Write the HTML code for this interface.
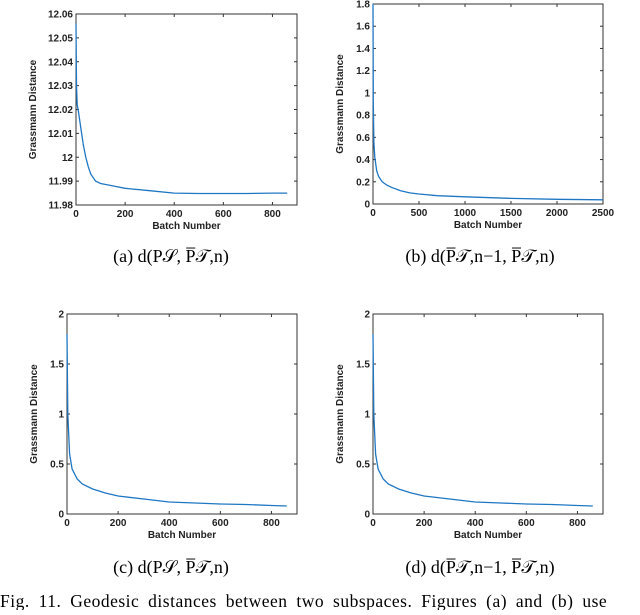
<!DOCTYPE html>
<html><head><meta charset="utf-8"><style>
body{margin:0;background:#fff;width:640px;height:610px;overflow:hidden}
svg text{font-family:"Liberation Sans",sans-serif}
.t{font-size:10px;font-weight:bold;fill:#222}
.cap{font-family:"Liberation Serif",serif;font-size:18px;fill:#000}
</style></head><body>
<svg id="s" width="640" height="610">
<text class="cap" x="0" y="607" style="font-size:17.5px;letter-spacing:0.5px;word-spacing:4px">Fig. 11.  Geodesic distances between two subspaces. Figures (a) and (b) use</text>
</svg>
<script>
const aX=[0,2,5,10,20,30,40,50,60,80,100,150,200,300,400,500,600,700,800,860];
const aY=[12.056,12.03,12.022,12.019,12.012,12.005,12.0,11.996,11.993,11.990,11.989,11.988,11.987,11.986,11.985,11.9848,11.9848,11.9848,11.985,11.985];
const bX=[0,3,10,20,40,60,100,150,200,300,400,500,700,1000,1500,2000,2500];
const bY=[1.8,0.9,0.55,0.42,0.3,0.25,0.2,0.17,0.15,0.12,0.1,0.09,0.075,0.065,0.05,0.042,0.038];
const cX=[0,3,10,20,40,60,100,150,200,300,400,500,600,700,800,860];
const cY=[1.8,1.0,0.6,0.45,0.35,0.3,0.25,0.21,0.18,0.15,0.12,0.11,0.1,0.095,0.085,0.08];
const dX=[0,3,10,20,40,60,100,150,200,300,400,500,600,700,800,860];
const dY=[1.8,1.0,0.6,0.45,0.35,0.3,0.25,0.21,0.18,0.15,0.12,0.11,0.1,0.095,0.085,0.08];
const aYT=["11.98","11.99","12","12.01","12.02","12.03","12.04","12.05","12.06"];
const bYT=["0","0.2","0.4","0.6","0.8","1","1.2","1.4","1.6","1.8"];
const cYT=["0","0.5","1","1.5","2"];
const xT900=["0","200","400","600","800"];
const xT2500=["0","500","1000","1500","2000","2500"];
const NS="http://www.w3.org/2000/svg";
const svg=document.getElementById('s');
function mk(t,a,p){const e=document.createElementNS(NS,t);for(const k in a)e.setAttribute(k,a[k]);(p||svg).appendChild(e);return e;}
function chart(id,L,T,R,B,xmax,ymin,ymax,xs,ys,yt,xt,cap,capX,capY){
  const g=mk('g',{});
  
  
  const sx=v=>L+(v/xmax)*(R-L), sy=v=>B-(v-ymin)/(ymax-ymin)*(B-T);
  const fr=mk('rect',{x:L,y:T,width:R-L,height:B-T,fill:'none',stroke:'#333','stroke-width':1},g);
  
  
  yt.forEach(s=>{const v=parseFloat(s),y=sy(v);
    mk('line',{x1:L,x2:L+3,y1:y,y2:y,stroke:'#333'},g);mk('line',{x1:R,x2:R-3,y1:y,y2:y,stroke:'#333'},g);
    const t=mk('text',{x:L-3,y:y+3.5,'text-anchor':'end',class:'t'},g);t.textContent=s;
    
    });
  xt.forEach(s=>{const v=parseFloat(s),x=sx(v);
    mk('line',{x1:x,x2:x,y1:B,y2:B-3,stroke:'#333'},g);mk('line',{x1:x,x2:x,y1:T,y2:T+3,stroke:'#333'},g);
    const t=mk('text',{x:x,y:B+12,'text-anchor':'middle',class:'t'},g);t.textContent=s;
    
    });
  const xl=mk('text',{x:(L+R)/2,y:B+24,'text-anchor':'middle',class:'t'},g);xl.textContent='Batch Number';
  
  
  const ylx=L-(id==='a'?40:30);
  const yl=mk('text',{x:ylx,y:(T+B)/2,'text-anchor':'middle',class:'t',transform:`rotate(-90 ${ylx} ${(T+B)/2})`},g);yl.textContent='Grassmann Distance';
  
  
  const pts=xs.map((x,i)=>sx(x).toFixed(1)+','+sy(ys[i]).toFixed(1)).join(' ');
  const pl=mk('polyline',{points:pts,fill:'none',stroke:'#1f77c4','stroke-width':1.3},g);
  
  
  const c=mk('text',{x:capX,y:capY,'text-anchor':'middle',class:'cap'},g);c.textContent=cap;
  
  
}
chart('a',76,14,297,205,900,11.98,12.06,aX,aY,aYT,xT900,'(a) d(P𝒮, P̅𝒯,n)',171,262);
chart('b',373,4,603,204,2500,0,1.8,bX,bY,bYT,xT2500,'(b) d(P̅𝒯,n−1, P̅𝒯,n)',480,262);
chart('c',67,314,297,514,900,0,2,cX,cY,cYT,xT900,'(c) d(P𝒮, P̅𝒯,n)',171,573);
chart('d',373,314,603,514,900,0,2,dX,dY,cYT,xT900,'(d) d(P̅𝒯,n−1, P̅𝒯,n)',480,573);
</script>
</body></html>
